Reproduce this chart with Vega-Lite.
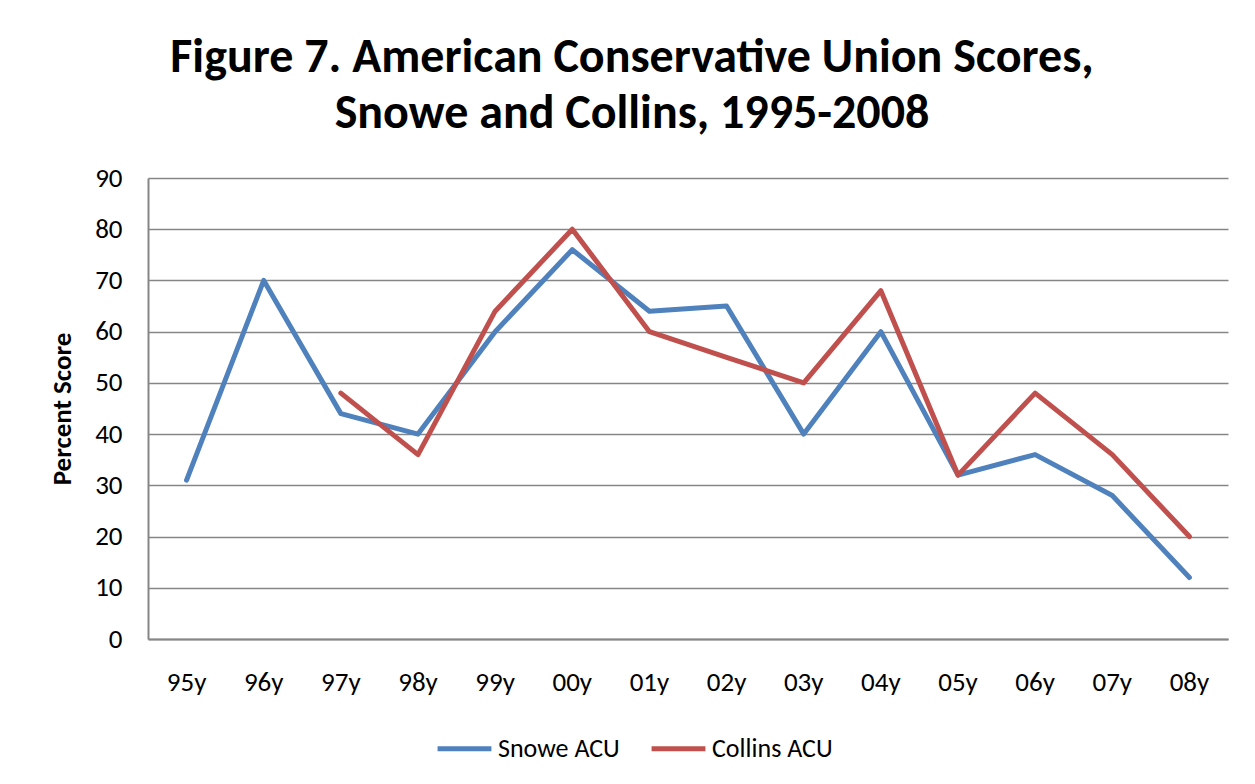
{
  "$schema": "https://vega.github.io/schema/vega-lite/v6.json",
  "autosize": "none",
  "width": 1080,
  "height": 461,
  "padding": {"left": 148, "top": 178, "right": 27, "bottom": 145},
  "background": "white",
  "title": {
    "text": ["Figure 7. American Conservative Union Scores,", "Snowe and Collins, 1995-2008"],
    "font": "Carlito, Lato, Open Sans",
    "fontSize": 48,
    "fontWeight": "bold",
    "color": "#000000",
    "lineHeight": 56,
    "anchor": "middle",
    "frame": "group",
    "dx": -56,
    "offset": 26
  },
  "data": {
    "values": [
      {"year": "95y", "series": "Snowe ACU", "score": 31},
      {"year": "96y", "series": "Snowe ACU", "score": 70},
      {"year": "97y", "series": "Snowe ACU", "score": 44},
      {"year": "98y", "series": "Snowe ACU", "score": 40},
      {"year": "99y", "series": "Snowe ACU", "score": 60},
      {"year": "00y", "series": "Snowe ACU", "score": 76},
      {"year": "01y", "series": "Snowe ACU", "score": 64},
      {"year": "02y", "series": "Snowe ACU", "score": 65},
      {"year": "03y", "series": "Snowe ACU", "score": 40},
      {"year": "04y", "series": "Snowe ACU", "score": 60},
      {"year": "05y", "series": "Snowe ACU", "score": 32},
      {"year": "06y", "series": "Snowe ACU", "score": 36},
      {"year": "07y", "series": "Snowe ACU", "score": 28},
      {"year": "08y", "series": "Snowe ACU", "score": 12},
      {"year": "97y", "series": "Collins ACU", "score": 48},
      {"year": "98y", "series": "Collins ACU", "score": 36},
      {"year": "99y", "series": "Collins ACU", "score": 64},
      {"year": "00y", "series": "Collins ACU", "score": 80},
      {"year": "01y", "series": "Collins ACU", "score": 60},
      {"year": "02y", "series": "Collins ACU", "score": 55},
      {"year": "03y", "series": "Collins ACU", "score": 50},
      {"year": "04y", "series": "Collins ACU", "score": 68},
      {"year": "05y", "series": "Collins ACU", "score": 32},
      {"year": "06y", "series": "Collins ACU", "score": 48},
      {"year": "07y", "series": "Collins ACU", "score": 36},
      {"year": "08y", "series": "Collins ACU", "score": 20}
    ]
  },
  "mark": {"type": "line", "strokeWidth": 5, "strokeCap": "round", "strokeJoin": "round"},
  "encoding": {
    "x": {
      "field": "year",
      "type": "ordinal",
      "sort": ["95y", "96y", "97y", "98y", "99y", "00y", "01y", "02y", "03y", "04y", "05y", "06y", "07y", "08y"],
      "scale": {"type": "band", "paddingInner": 0, "paddingOuter": 0},
      "axis": {
        "title": null,
        "labelAngle": 0,
        "ticks": false,
        "grid": false,
        "domainColor": "#868686",
        "domainWidth": 2,
        "labelFont": "Carlito, Lato, Open Sans",
        "labelFontSize": 27,
        "labelColor": "#000000",
        "labelPadding": 30
      }
    },
    "y": {
      "field": "score",
      "type": "quantitative",
      "scale": {"domain": [0, 90], "nice": false, "zero": true},
      "axis": {
        "title": "Percent Score",
        "titleFont": "Carlito, Lato, Open Sans",
        "titleFontSize": 27,
        "titleFontWeight": "bold",
        "titleColor": "#000000",
        "titlePadding": 18,
        "values": [0, 10, 20, 30, 40, 50, 60, 70, 80, 90],
        "ticks": false,
        "grid": true,
        "gridColor": "#868686",
        "gridWidth": 1.5,
        "domainColor": "#868686",
        "domainWidth": 2,
        "labelFont": "Carlito, Lato, Open Sans",
        "labelFontSize": 27,
        "labelColor": "#000000",
        "labelPadding": 26
      }
    },
    "color": {
      "field": "series",
      "type": "nominal",
      "sort": ["Snowe ACU", "Collins ACU"],
      "scale": {"domain": ["Snowe ACU", "Collins ACU"], "range": ["#4F81BD", "#C0504D"]},
      "legend": {
        "title": null,
        "orient": "none",
        "direction": "horizontal",
        "legendX": 287,
        "legendY": 541,
        "symbolType": "stroke",
        "symbolStrokeWidth": 5,
        "symbolSize": 2900,
        "labelFont": "Carlito, Lato, Open Sans",
        "labelFontSize": 26,
        "labelColor": "#000000",
        "labelOffset": 4,
        "columnPadding": 21
      }
    }
  },
  "config": {
    "view": {"stroke": null}
  }
}
